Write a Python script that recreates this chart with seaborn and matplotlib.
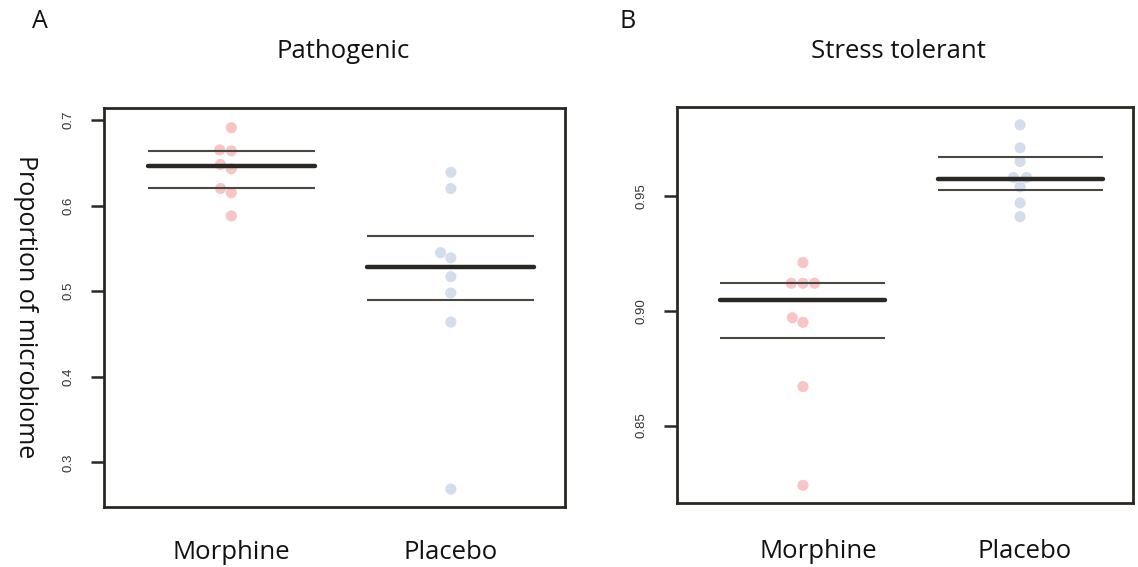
import numpy as np
import pandas as pd
import matplotlib
matplotlib.use("Agg")
import matplotlib.pyplot as plt
import matplotlib.transforms as mtransforms
import seaborn as sns

# ---- data ----
groups = ["Morphine", "Placebo"]

patho_morphine = [0.691, 0.664, 0.665, 0.648, 0.643, 0.620, 0.615, 0.588]
patho_placebo = [0.639, 0.620, 0.545, 0.539, 0.517, 0.498, 0.464, 0.269]
patho_center = [0.646, 0.528]
patho_low = [0.620, 0.490]
patho_high = [0.664, 0.564]

stress_morphine = [0.921, 0.912, 0.912, 0.912, 0.897, 0.895, 0.867, 0.824]
stress_placebo = [0.981, 0.971, 0.965, 0.958, 0.958, 0.954, 0.947, 0.941]
stress_center = [0.9048, 0.9575]
stress_low = [0.8882, 0.9525]
stress_high = [0.9123, 0.9669]

patho_ticks = [0.3, 0.4, 0.5, 0.6, 0.7]
patho_ticklabels = ["0.3", "0.4", "0.5", "0.6", "0.7"]
stress_ticks = [0.85, 0.90, 0.95]
stress_ticklabels = ["0.85", "0.90", "0.95"]

titles = ["Pathogenic", "Stress tolerant"]
panel_letters = ["A", "B"]
ylabel = "Proportion of microbiome"

colors = {"Morphine": "#f9c4c6", "Placebo": "#d4ddeb"}

sns.set_theme(style="white")
plt.rcParams["font.family"] = ["Open Sans", "DejaVu Sans"]

fig = plt.figure(figsize=(11.38, 5.67), dpi=100)
axA = fig.add_axes([0.0914, 0.1058, 0.4051, 0.7037])
axB = fig.add_axes([0.5949, 0.1129, 0.4007, 0.6989])

panels = [
    (axA, patho_morphine, patho_placebo, patho_center, patho_low, patho_high,
     patho_ticks, patho_ticklabels, (0.248, 0.714), (0, 0), 45),
    (axB, stress_morphine, stress_placebo, stress_center, stress_low, stress_high,
     stress_ticks, stress_ticklabels, (0.8163, 0.9889), (15, 5), 49),
]

for ax, m, p, center, low, high, ticks, tlabels, ylim, shifts, drop in panels:
    df = pd.DataFrame({
        "group": ["Morphine"] * len(m) + ["Placebo"] * len(p),
        "value": m + p,
    })
    sns.swarmplot(data=df, x="group", y="value", hue="group", order=groups,
                  palette=colors, legend=False, size=8, linewidth=0, ax=ax,
                  zorder=2)
    for i, g in enumerate(groups):
        ax.hlines(center[i], i - 0.38, i + 0.38, color="#2b2824", lw=3.2,
                  zorder=3, capstyle="round")
        ax.hlines([low[i], high[i]], i - 0.38, i + 0.38, color="#4a4641",
                  lw=1.5, zorder=3)
    ax.set_xlim(-0.58, 1.52)
    ax.set_ylim(*ylim)
    ax.set_xlabel("")
    ax.set_ylabel("")
    ax.set_yticks(ticks)
    ax.set_yticklabels(tlabels, rotation=90, va="center",
                       fontfamily="Liberation Sans", fontsize=9.5, color="#333333")
    ax.set_xticks(range(len(groups)))
    ax.set_xticklabels([])
    ax.tick_params(axis="x", length=0)
    for i, (g, dx) in enumerate(zip(groups, shifts)):
        tr = ax.get_xaxis_transform() + mtransforms.ScaledTranslation(
            dx / 100, -drop / 100, fig.dpi_scale_trans)
        ax.text(i, 0, g, transform=tr, ha="center", va="center",
                fontsize=18.5, color="#111111", clip_on=False)
    ax.tick_params(axis="y", length=9.5, width=1.8, color="#2b2824", pad=12,
                   left=True)
    for s in ax.spines.values():
        s.set_visible(True)
        s.set_linewidth(2.0)
        s.set_color("#2b2824")
    ax.set_facecolor("white")

# titles and panel letters
fig.text(343 / 1138, 1 - 52 / 567, titles[0], ha="center", va="center",
         fontsize=18.5, color="#111111")
fig.text(898 / 1138, 1 - 52 / 567, titles[1], ha="center", va="center",
         fontsize=18.5, color="#111111")
fig.text(40 / 1138, 1 - 22 / 567, panel_letters[0], ha="center", va="center",
         fontsize=18, color="#111111")
fig.text(628 / 1138, 1 - 22 / 567, panel_letters[1], ha="center", va="center",
         fontsize=18, color="#111111")
fig.text(25 / 1138, 1 - 307 / 567, ylabel, ha="center", va="center",
         rotation=-90, fontsize=18, color="#111111")

fig.savefig("out.png", dpi=100, facecolor="white")
